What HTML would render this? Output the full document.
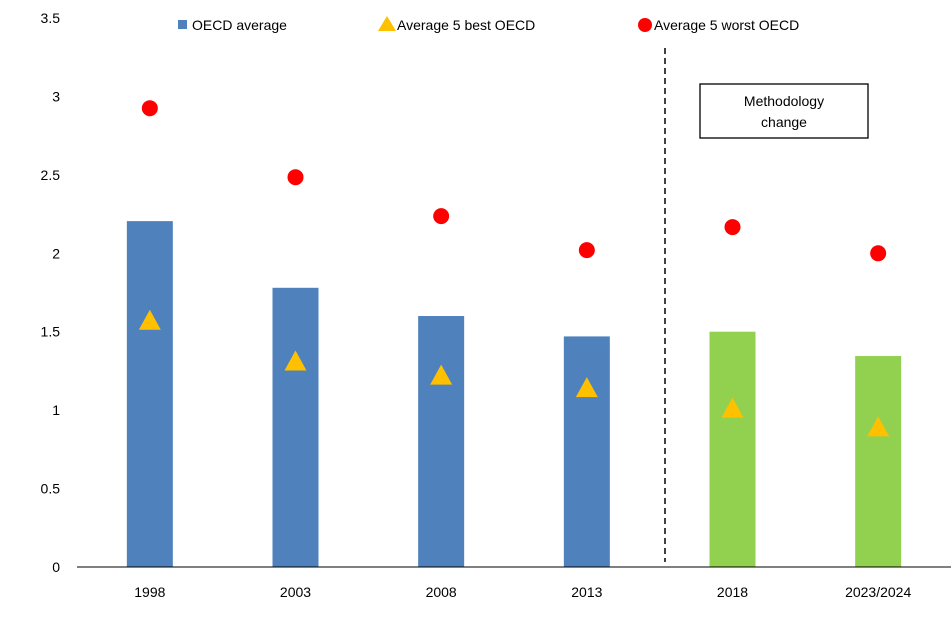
<!DOCTYPE html>
<html><head><meta charset="utf-8"><style>
body{margin:0;background:#fff}
svg text{font-family:"Liberation Sans",sans-serif;font-size:14px;fill:#000}
</style></head><body>
<svg width="951" height="638">
<g id="plot"></g>
</svg>
<script>
const categories=["1998","2003","2008","2013","2018","2023/2024"];
const oecdAvg=[2.205,1.78,1.60,1.47,1.50,1.345];
const best5=[1.57,1.31,1.22,1.14,1.01,0.89];
const worst5=[2.925,2.485,2.237,2.02,2.167,2.0];
const yTicks=["0","0.5","1","1.5","2","2.5","3","3.5"];
const ns="http://www.w3.org/2000/svg";
const g=document.getElementById('plot');
const x0=77,x1=951,yb=567,yt=18,ymax=3.5;
const band=(x1-x0)/categories.length;
const X=i=>x0+band*(i+0.5);
const Y=v=>yb-(yb-yt)*v/ymax;
function mk(t,a,p){const e=document.createElementNS(ns,t);for(const k in a)e.setAttribute(k,a[k]);(p||g).appendChild(e);return e;}
yTicks.forEach(t=>{const e=mk('text',{x:60,y:Y(+t)+5,'text-anchor':'end','font-size':'15'});e.textContent=t;

});
categories.forEach((c,i)=>{
const b=mk('rect',{x:X(i)-23,y:Y(oecdAvg[i]),width:46,height:yb-Y(oecdAvg[i]),fill:i<4?'#4f81bd':'#92d050'});


const t=mk('text',{x:X(i),y:597,'text-anchor':'middle','font-size':'15'});t.textContent=c;


});
const ax=mk('line',{x1:x0,x2:x1,y1:yb,y2:yb,stroke:'#000','stroke-width':1});


categories.forEach((c,i)=>{
const cx=X(i),cy=Y(best5[i]);
const tr=mk('polygon',{points:`${cx},${cy-11} ${cx-11},${cy+9} ${cx+11},${cy+9}`,fill:'#ffc000'});


const d=mk('circle',{cx:cx,cy:Y(worst5[i]),r:8,fill:'#ff0000'});


});
const dl=mk('line',{x1:665,x2:665,y1:48,y2:562,stroke:'#000','stroke-width':1.5,'stroke-dasharray':'6,4'});


const bx=mk('rect',{x:700,y:84,width:168,height:54,fill:'#fff',stroke:'#000','stroke-width':1.3});


[["Methodology",106],["change",127]].forEach(a=>{const t=mk('text',{x:784,y:a[1],'text-anchor':'middle','font-size':'15'});t.textContent=a[0];

});
const l1=mk('rect',{x:178,y:20,width:9,height:9,fill:'#4f81bd'});


const lt1=mk('text',{x:192,y:30,'font-size':'15'});lt1.textContent='OECD average';


const l2=mk('polygon',{points:'387,16 378,31 396,31',fill:'#ffc000'});


const lt2=mk('text',{x:397,y:30,'font-size':'15'});lt2.textContent='Average 5 best OECD';


const l3=mk('circle',{cx:645,cy:25,r:7,fill:'#ff0000'});


const lt3=mk('text',{x:654,y:30,'font-size':'15'});lt3.textContent='Average 5 worst OECD';


</script>
</body></html>
